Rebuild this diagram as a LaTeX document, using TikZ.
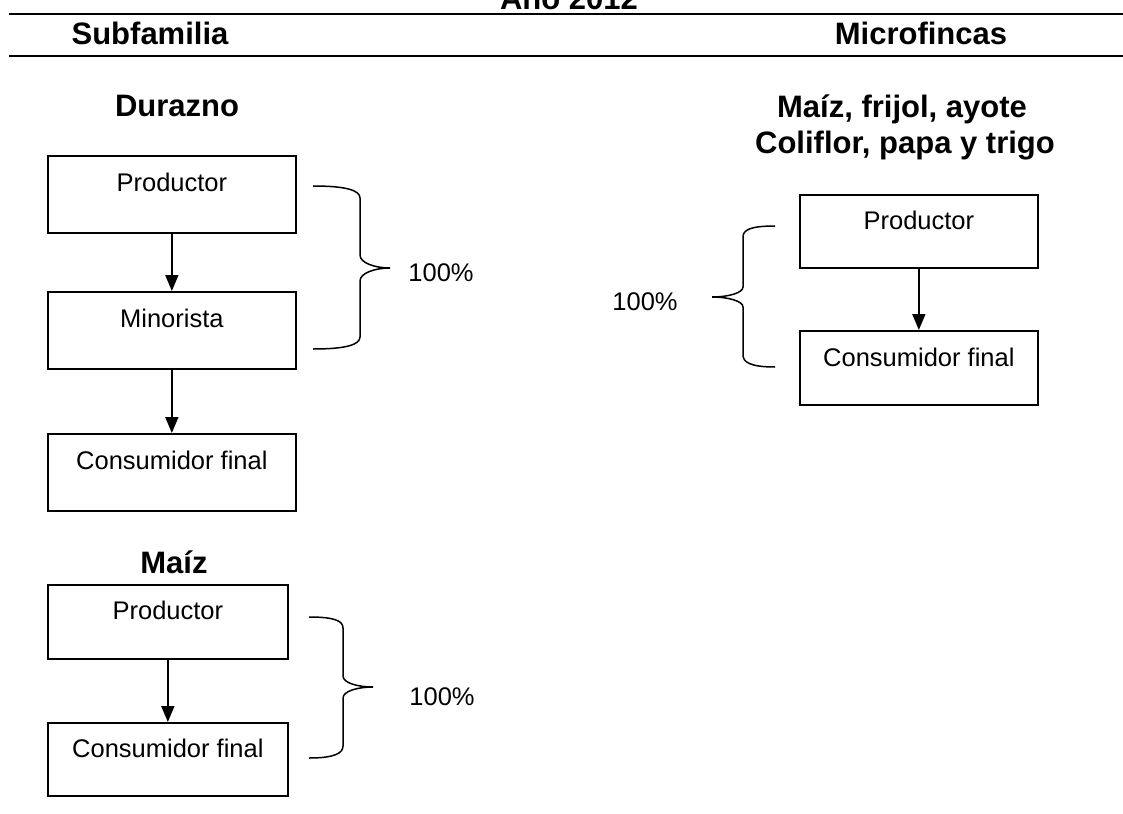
\documentclass[tikz,border=0pt]{standalone}
\usepackage{fontspec}
\setmainfont{Liberation Sans}
\usetikzlibrary{arrows.meta}
\tikzset{
  boxnode/.style={draw, line width=1.7pt, inner sep=0pt, text height=36pt, text depth=#1, font=\fontsize{25.5}{30}\selectfont, anchor=north west},
  boxnode/.default=41pt,
  arr/.style={line width=1.7pt, -{Triangle[width=13pt,length=16pt]}},
  titletext/.style={font=\fontsize{31}{36}\selectfont\bfseries, anchor=base, inner sep=0pt},
  pct/.style={font=\fontsize{25.5}{30}\selectfont, anchor=base, inner sep=0pt},
  bracepath/.style={line width=1.5pt},
  rule/.style={line width=2.2pt}
}
\begin{document}
\begin{tikzpicture}[x=1pt,y=-1pt]
\useasboundingbox (0,0) rectangle (1123,813);
% header
\node[titletext] (anio) at (569,10) {Año 2012};
\draw[rule] (9,14) -- (1123,14);
\node[titletext] (subfam) at (150,45) {Subfamilia};
\node[titletext] (micro) at (921,45) {Microfincas};
\draw[rule] (9,56) -- (1123,56);

% Durazno
\node[titletext] (tdur) at (177,117) {Durazno};
\node[boxnode, minimum width=248pt] (p1) at (47,155) {Productor};
\node[boxnode, minimum width=248pt] (m1) at (47,291) {Minorista};
\node[boxnode, minimum width=248pt] (c1) at (47,433) {Consumidor final};
\draw[arr] (p1) -- (m1);
\draw[arr] (m1) -- (c1);
\draw[bracepath] (313,186) .. controls (345,186) and (360,190) .. (360,198) -- (360,255)
  .. controls (360,263) and (375,268) .. (390,268)
  .. controls (375,268) and (360,273) .. (360,281) -- (360,337)
  .. controls (360,345) and (345,349) .. (313,349);
\node[pct] (pct1) at (441,281) {100\%};

% Maiz
\node[titletext] (tmaiz) at (174,573) {Maíz};
\node[boxnode=39pt, minimum width=240pt, text height=35pt] (p2) at (47,584) {Productor};
\node[boxnode=38pt, minimum width=240pt, text height=35pt] (c2) at (47,722) {Consumidor final};
\draw[arr] (p2) -- (c2);
\draw[bracepath] (309,617) .. controls (335,617) and (343,621) .. (343,628) -- (343,676)
  .. controls (343,683) and (358,687) .. (373,687)
  .. controls (358,687) and (343,691) .. (343,698) -- (343,746)
  .. controls (343,753) and (335,758) .. (309,758);
\node[pct] (pct2) at (442,705) {100\%};

% Microfincas
\node[titletext] (tm1) at (902,118) {Maíz, frijol, ayote};
\node[titletext] (tm2) at (905,154) {Coliflor, papa y trigo};
\node[boxnode=38pt, minimum width=238pt, text height=35pt] (p3) at (799,194) {Productor};
\node[boxnode=38pt, minimum width=238pt, text height=36pt] (c3) at (799,330) {Consumidor final};
\draw[arr] (p3) -- (c3);
\draw[bracepath] (775,226) .. controls (750,226) and (743,230) .. (743,237) -- (743,287)
  .. controls (743,293) and (728,297) .. (712,297)
  .. controls (728,297) and (743,301) .. (743,307) -- (743,355)
  .. controls (743,362) and (750,367) .. (775,367);
\node[pct] (pct3) at (645,310) {100\%};
\end{tikzpicture}
\end{document}
